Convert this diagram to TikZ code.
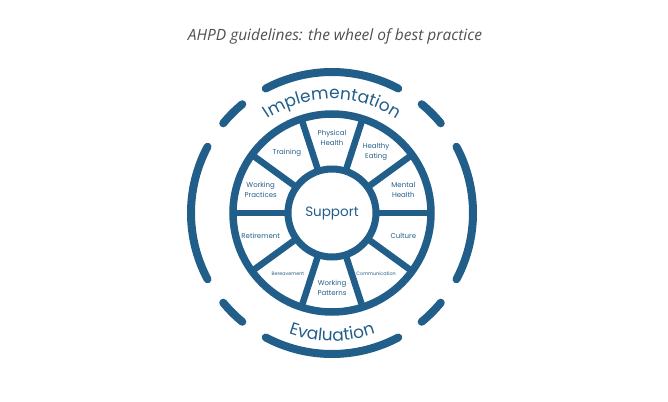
\documentclass[tikz,border=0pt]{standalone}
\usepackage{fontspec}
\usepackage{tikz}
\usetikzlibrary{decorations.text}
\newfontfamily\wheelfont{Poppins}
\newfontfamily\captionfont{Open Sans}
\definecolor{ahpdblue}{RGB}{33,94,137}
\definecolor{captiongray}{RGB}{80,80,80}
\tikzset{
  rim/.style={draw=ahpdblue, line width=7.5pt},
  hub/.style={circle, draw=ahpdblue, line width=7pt, fill=white, minimum size=88pt,
              inner sep=0pt, text=ahpdblue, font=\wheelfont\fontsize{13.5}{14}\selectfont},
  spoke/.style={draw=ahpdblue, line width=6.5pt},
  ringarc/.style={draw=ahpdblue, line width=8pt, line cap=round},
  seglbl/.style={align=center, text=ahpdblue, inner sep=0pt,
                 font=\wheelfont\fontsize{7}{10}\selectfont},
  tinylbl/.style={seglbl, font=\wheelfont\fontsize{4.8}{6}\selectfont},
  caption/.style={font=\captionfont\itshape\fontsize{15.5}{17}\selectfont, text=captiongray},
  ringword/.style={decorate, decoration={text along path, text align=center,
                   text color=ahpdblue, text={#1}}}
}
\begin{document}
\begin{tikzpicture}[x=1pt, y=1pt]
\useasboundingbox (-332,-189) rectangle (336,212);
\coordinate (c) at (0,-1);
\node[caption] (title) at (3,176) {AHPD guidelines: the wheel of best practice};
% outer ring, broken into long and short arcs
\foreach \mid in {0,90,180,270} {
  \draw[ringarc] ([shift={(\mid-28:141)}]c) arc[start angle=\mid-28, end angle=\mid+28, radius=141];
}
\foreach \mid in {45,135,225,315} {
  \draw[ringarc] ([shift={(\mid-5.5:141)}]c) arc[start angle=\mid-5.5, end angle=\mid+5.5, radius=141];
}
% the wheel
\foreach \a in {0,36,...,324} {
  \draw[spoke] ([shift={(\a:44)}]c) -- ([shift={(\a:99)}]c);
}
\draw[rim] (c) circle[radius=99];
\node[hub] (support) at (c) {Support};
\foreach \ang/\sty/\txt in {90/seglbl/{Physical\\Health}, 54/seglbl/{Healthy\\Eating},
    18/seglbl/{Mental\\Health}, -18/seglbl/Culture, -54/tinylbl/Communication,
    -90/seglbl/{Working\\Patterns}, -126/tinylbl/Bereavement, -162/seglbl/Retirement,
    162/seglbl/{Working\\Practices}, 127/seglbl/Training} {
  \node[\sty] (seg\ang) at ([shift={(\ang:75)}]c) {\txt};
}
% curved words
\path[ringword={|\wheelfont\fontsize{17}{17}\selectfont|Implementation}]
  ([shift={(150:114)}]c) arc[start angle=150, end angle=30, radius=114];
\path[ringword={|\wheelfont\fontsize{17}{17}\selectfont|Evaluation}]
  ([shift={(210:128)}]c) arc[start angle=210, end angle=330, radius=128];
\end{tikzpicture}
\end{document}
